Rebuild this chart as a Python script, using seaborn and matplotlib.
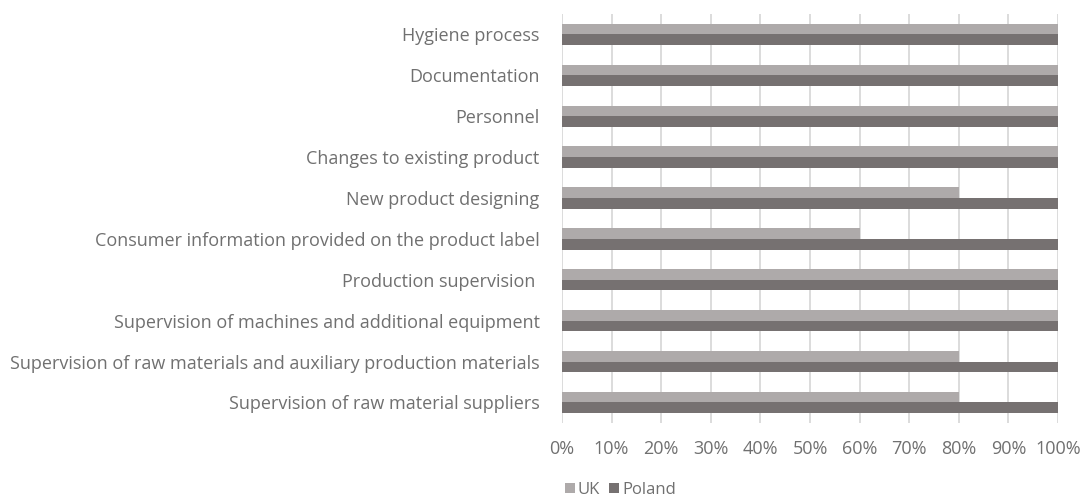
import matplotlib
matplotlib.use("Agg")
import matplotlib.pyplot as plt
import seaborn as sns
import pandas as pd
from matplotlib.ticker import PercentFormatter
from matplotlib.patches import Patch

categories = [
    "Hygiene process",
    "Documentation",
    "Personnel",
    "Changes to existing product",
    "New product designing",
    "Consumer information provided on the product label",
    "Production supervision ",
    "Supervision of machines and additional equipment",
    "Supervision of raw materials and auxiliary production materials",
    "Supervision of raw material suppliers",
]
uk = [100, 100, 100, 100, 80, 60, 100, 100, 80, 80]
poland = [100, 100, 100, 100, 100, 100, 100, 100, 100, 100]
series = ["UK", "Poland"]
colors = ["#aeaaaa", "#767171"]
xticks = list(range(0, 101, 10))

df = pd.DataFrame({
    "category": categories * 2,
    "value": uk + poland,
    "series": ["UK"] * len(categories) + ["Poland"] * len(categories),
})

sns.set_theme(style="white")
plt.rcParams["font.family"] = ["Open Sans", "DejaVu Sans"]
text_color = "#707070"
fs = 13

fig = plt.figure(figsize=(10.88, 5.01), dpi=100)
ax = fig.add_axes([0.5165, 0.156, 0.456, 0.816])

sns.barplot(data=df, y="category", x="value", hue="series", order=categories,
            hue_order=series, palette=colors, orient="h", width=0.52,
            saturation=1, linewidth=0, ax=ax, legend=False)

ax.set_xlim(0, 100)
ax.set_xticks(xticks)
ax.xaxis.set_major_formatter(PercentFormatter(decimals=0))
ax.set_xlabel("")
ax.set_ylabel("")
ax.set_ylim(len(categories) - 0.5, -0.5)
ax.grid(axis="x", color="#d9d9d9", linewidth=1.3)
ax.set_axisbelow(True)
for s in ax.spines.values():
    s.set_visible(False)
ax.tick_params(axis="y", length=0, pad=16, labelsize=fs, labelcolor=text_color)
ax.tick_params(axis="x", length=0, pad=12, labelsize=fs, labelcolor=text_color)

handles = [Patch(facecolor=c, edgecolor="none", label=s) for s, c in zip(series, colors)]
fig.legend(handles=handles, loc="center", bbox_to_anchor=(0.570, 0.022),
           ncol=2, frameon=False, fontsize=12, labelcolor=text_color,
           handlelength=0.6, handleheight=0.6, handletextpad=0.15, columnspacing=0.6)

fig.savefig("out.png", dpi=100)
